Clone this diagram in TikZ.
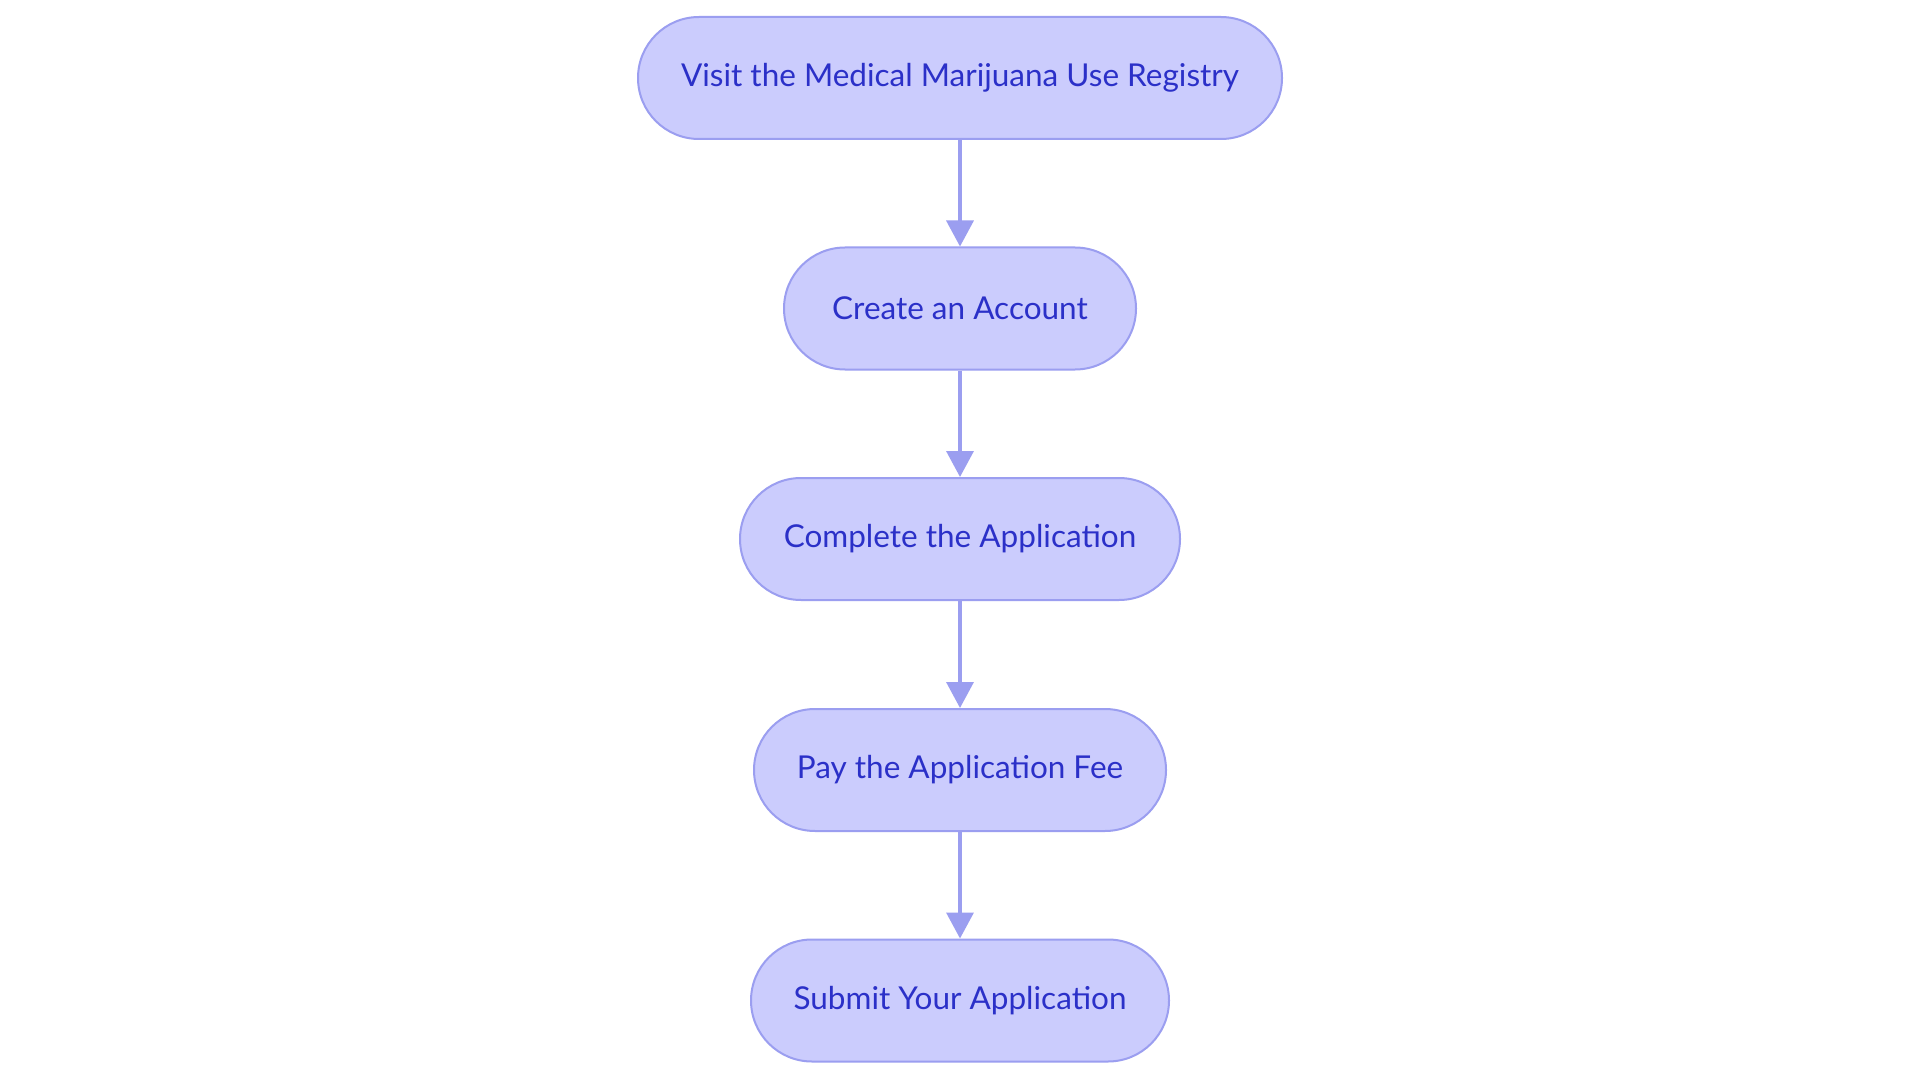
\documentclass[tikz,border=0pt]{standalone}
\usepackage{fontspec}
\setmainfont{Lato}
\usetikzlibrary{arrows.meta}
\definecolor{nodefill}{HTML}{CBCCFD}
\definecolor{nodeline}{HTML}{9B9EF0}
\definecolor{nodetext}{HTML}{2B30C8}
\begin{document}
\begin{tikzpicture}[x=1pt,y=-1pt,
  stepbox/.style={draw=nodeline, line width=2pt, fill=nodefill, text=nodetext,
    rounded corners=61pt, minimum height=122pt, inner sep=0pt,
    font=\fontsize{31.5}{38}\selectfont},
  flow/.style={draw=nodeline, line width=3.5pt, -{Triangle[width=27pt,length=26pt]}}]
\useasboundingbox[fill=white] (0,0) rectangle (1920,1083);
\node[stepbox, minimum width=644pt] (n1) at (960,78) {Visit the Medical Marijuana Use Registry};
\node[stepbox, minimum width=352pt] (n2) at (960,308.5) {Create an Account};
\node[stepbox, minimum width=440pt] (n3) at (960,539) {Complete the Application};
\node[stepbox, minimum width=412pt] (n4) at (960,770) {Pay the Application Fee};
\node[stepbox, minimum width=418pt] (n5) at (960,1000.5) {Submit Your Application};
\draw[flow] (n1) -- (n2);
\draw[flow] (n2) -- (n3);
\draw[flow] (n3) -- (n4);
\draw[flow] (n4) -- (n5);
\end{tikzpicture}
\end{document}
